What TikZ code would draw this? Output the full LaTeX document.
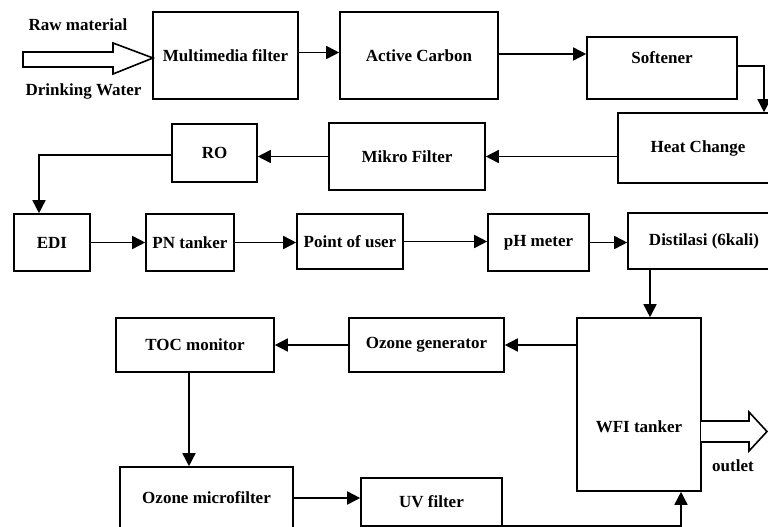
\documentclass[tikz,border=0pt]{standalone}
\usepackage{fontspec}
\setmainfont{Liberation Serif}
\usepackage{tikz}
\usetikzlibrary{arrows.meta}
\tikzset{
	box/.style={draw,line width=1.6pt,inner sep=0pt,font=\bfseries\fontsize{17}{20}\selectfont},
	lbl/.style={inner sep=0pt,font=\bfseries\fontsize{17}{20}\selectfont},
	arr/.style={line width=1.6pt,-{Triangle[length=13pt,width=13pt]}},
	hollow/.style={draw,line width=1.6pt,fill=white,line join=miter}
}

\begin{document}
\begin{tikzpicture}[x=1pt,y=-1pt]
	\useasboundingbox (0,0) rectangle (768,527);
	\clip (0,0) rectangle (768,527);
	\node[box,minimum width=145,minimum height=87] (mm) at (225.5,55.5) {Multimedia filter};
	\node[box,minimum width=158,minimum height=87] (ac) at (419,55.5) {Active Carbon};
	\node[box,minimum width=150,minimum height=62] (soft) at (662,68) {};
	\node[lbl] (softT) at (662,58) {Softener};
	\node[box,minimum width=160,minimum height=70] (heat) at (698,148) {Heat Change};
	\node[box,minimum width=156,minimum height=67] (mikro) at (407,156.5) {Mikro Filter};
	\node[box,minimum width=85,minimum height=58] (ro) at (214.5,153) {RO};
	\node[box,minimum width=76,minimum height=57] (edi) at (52,242.5) {EDI};
	\node[box,minimum width=88,minimum height=57] (pn) at (190,242.5) {PN tanker};
	\node[box,minimum width=106,minimum height=55] (pou) at (350,241.5) {Point of user};
	\node[box,minimum width=101,minimum height=57] (ph) at (538.5,242.5) {pH meter};
	\node[box,minimum width=152,minimum height=56] (dist) at (704,241) {Distilasi (6kali)};
	\node[box,minimum width=124,minimum height=173] (wfi) at (639,404.5) {};
	\node[lbl] (wfiT) at (639,427) {WFI tanker};
	\node[box,minimum width=155,minimum height=54] (ozg) at (426.5,345) {Ozone generator};
	\node[box,minimum width=158,minimum height=54] (toc) at (195,345) {TOC monitor};
	\node[box,minimum width=173,minimum height=62] (ozm) at (206.5,498) {Ozone microfilter};
	\node[box,minimum width=141,minimum height=48] (uv) at (431.5,502) {UV filter};
	\node[lbl] (raw) at (78,25) {Raw material};
	\node[lbl] (drink) at (83.5,91) {Drinking Water};
	\node[lbl] (outlet) at (733,466) {outlet};
	\draw[hollow] (23,52) -- (113,52) -- (113,43) -- (153,58) -- (113,74) -- (113,67) -- (23,67) -- cycle;
	\draw[hollow] (701,421) -- (749,421) -- (749,412) -- (767,431.5) -- (749,451) -- (749,442) -- (701,442);
	\draw[arr] ([yshift=3pt]mm.east) -- ([yshift=3pt]ac.west);
	\draw[arr] ([yshift=1.5pt]ac.east) -- ([yshift=1.5pt]ac.east -| soft.west);
	\draw[arr] ([yshift=2pt]soft.east) -| ([xshift=66pt]heat.north);
	\draw[arr] (heat.west |- mikro.east) -- (mikro.east);
	\draw[arr] (mikro.west) -- (mikro.west -| ro.east);
	\draw[arr] ([yshift=-2pt]ro.west) -| ([xshift=-13pt]edi.north);
	\draw[arr] (edi) -- (pn);
	\draw[arr] (pn.east) -- (pn.east -| pou.west);
	\draw[arr] (pou.east) -- (pou.east -| ph.west);
	\draw[arr] (ph.east) -- (ph.east -| dist.west);
	\draw[arr] ([xshift=-54pt]dist.south) -- ([xshift=11pt]wfi.north);
	\draw[arr] (wfi.west |- ozg.east) -- (ozg.east);
	\draw[arr] (ozg) -- (toc);
	\draw[arr] ([xshift=-6pt]toc.south) -- ([xshift=-6pt]toc.south |- ozm.north);
	\draw[arr] (ozm.east) -- (ozm.east -| uv.west);
	\draw[arr] ([yshift=1pt]uv.south east) -| ([xshift=42pt]wfi.south);
\end{tikzpicture}
\end{document}
